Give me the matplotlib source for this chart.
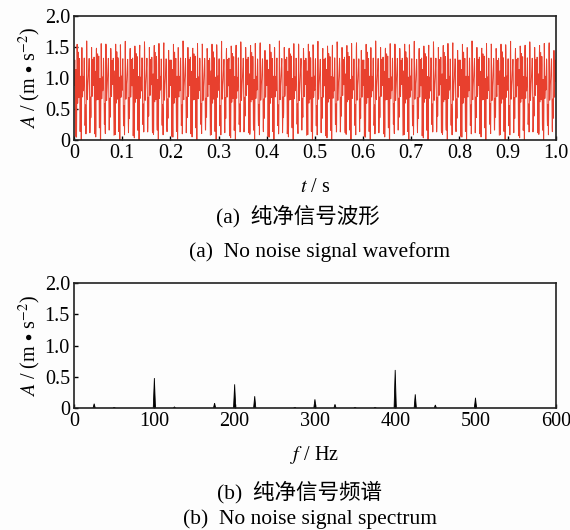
import numpy as np
import matplotlib
matplotlib.use("Agg")
import matplotlib.pyplot as plt

plt.rcParams['font.family'] = ['Liberation Serif', 'Noto Sans CJK SC']
plt.rcParams['mathtext.fontset'] = 'stix'

# spectrum peaks (Hz, amplitude m/s^2)
peak_freqs = [25, 50, 100, 125, 175, 200, 225, 275, 300, 325, 350, 375, 400, 425, 450, 500]
peak_amps = [0.07, 0.01, 0.48, 0.02, 0.08, 0.38, 0.19, 0.01, 0.14, 0.06, 0.01, 0.01, 0.61, 0.22, 0.05, 0.165]
peak_phases = [0.0, 0.196, 0.785, 1.767, 3.142, 4.909, 0.785, 3.338, 0.0, 3.338, 0.785, 4.909, 3.142, 1.767, 0.785, 0.196]
dc_level = 0.84
wave_gain = 0.6

fs = 2560
t = np.arange(0, 1.0 + 1e-9, 1 / fs)
wave = dc_level + wave_gain * sum(a * np.cos(2 * np.pi * f * t + p)
                                  for f, a, p in zip(peak_freqs, peak_amps, peak_phases))

fig = plt.figure(figsize=(5.7, 5.3), dpi=100)
fig.patch.set_facecolor('#fdfdfd')

fs_tick = 14.5
ylab = r'$\mathit{A}$ / (m $\bullet$ s$^{-2}$)'

ax1 = fig.add_axes([0.130, 0.736, 0.845, 0.234])
ax1.plot(t, wave, color='#e8402e', lw=0.7)
ax1.set_xlim(0, 1.0)
ax1.set_ylim(0, 2.0)
ax1.set_xticks(np.arange(0, 1.01, 0.1))
ax1.set_xticklabels(['0'] + [f'{v:.1f}' for v in np.arange(0.1, 1.01, 0.1)])
ax1.set_yticks([0, 0.5, 1.0, 1.5, 2.0])
ax1.set_yticklabels(['0', '0.5', '1.0', '1.5', '2.0'])
ax1.set_ylabel(ylab, fontsize=fs_tick, labelpad=1)
ax1.set_xlabel(r'$\mathit{t}$ / s', fontsize=fs_tick, labelpad=11)

ax2 = fig.add_axes([0.130, 0.230, 0.845, 0.236])
for f, a in zip(peak_freqs, peak_amps):
    ax2.fill([f - 1.4, f, f + 1.4], [0, a, 0], color='black', lw=0.6)
ax2.set_xlim(0, 600)
ax2.set_ylim(0, 2.0)
ax2.set_xticks([0, 100, 200, 300, 400, 500, 600])
ax2.set_yticks([0, 0.5, 1.0, 1.5, 2.0])
ax2.set_yticklabels(['0', '0.5', '1.0', '1.5', '2.0'])
ax2.set_ylabel(ylab, fontsize=fs_tick, labelpad=1)
ax2.set_xlabel(r'$\mathit{f}$ / Hz', fontsize=fs_tick, labelpad=9)

for ax in (ax1, ax2):
    ax.set_facecolor('#fdfdfd')
    ax.tick_params(direction='in', length=3, width=1, labelsize=fs_tick, pad=3)
    for s in ax.spines.values():
        s.set_linewidth(1.2)
        s.set_color('#222222')

fig.text(0.522, 1 - 216 / 530, '(a)  纯净信号波形', ha='center', va='center', fontsize=15.5)
fig.text(0.560, 1 - 252 / 530, '(a)  No noise signal waveform', ha='center', va='center', fontsize=15.5)
fig.text(0.525, 1 - 492 / 530, '(b)  纯净信号频谱', ha='center', va='center', fontsize=15.5)
fig.text(0.544, 1 - 519 / 530, '(b)  No noise signal spectrum', ha='center', va='center', fontsize=15.5)

fig.savefig('out.png', dpi=100, facecolor=fig.get_facecolor())
